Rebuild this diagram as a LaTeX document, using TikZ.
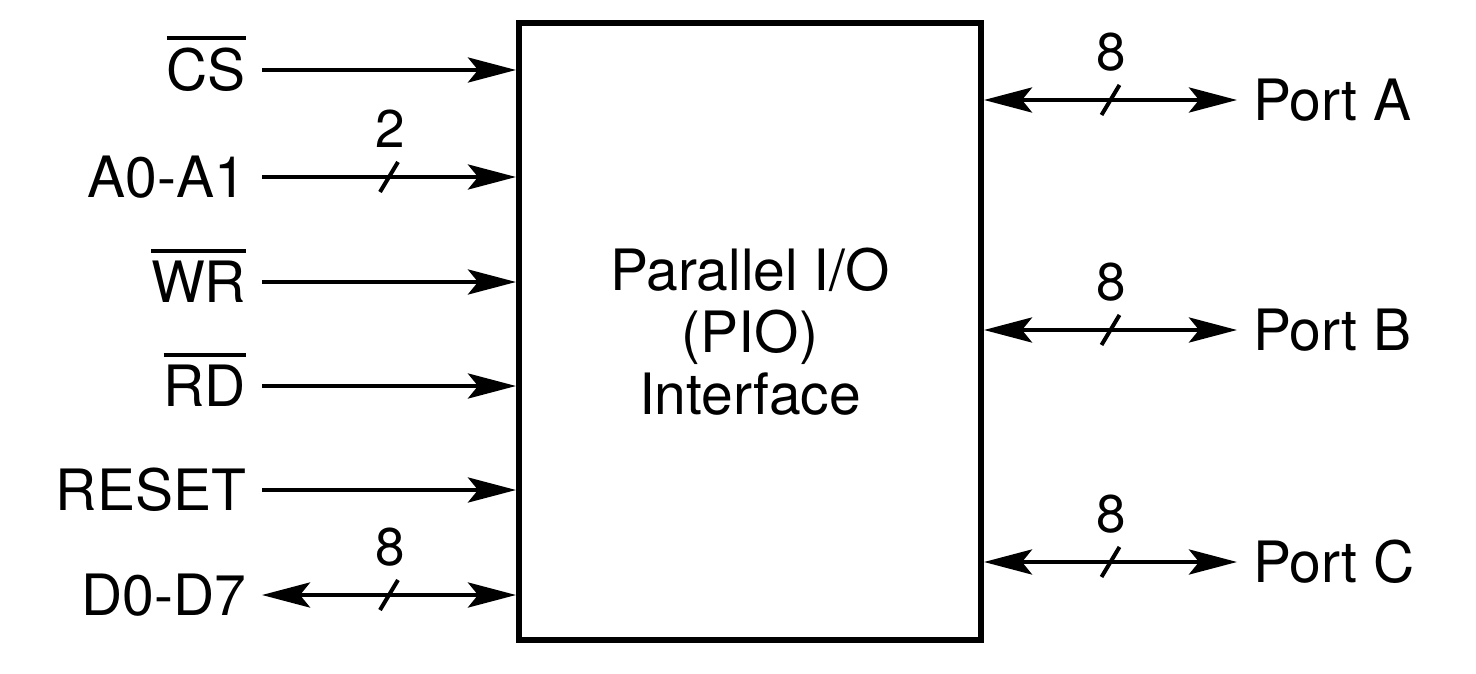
\documentclass[tikz,border=0pt]{standalone}
\usepackage{fontspec}
\setmainfont{TeX Gyre Heros}
\usetikzlibrary{arrows.meta,calc}
\newcommand\obar[1]{\leavevmode\vbox{\hrule height 4pt\kern 8pt\hbox{#1}}}
\tikzset{
  sig/.style={line width=4.5pt},
  tipstyle/.style={>={Stealth[length=48pt,width=25pt,inset=10pt]}},
  lbl/.style={font=\fontsize{57}{60}\selectfont, inner sep=0pt, outer xsep=16pt, text height=41pt, text depth=0pt},
  lleft/.style={lbl, anchor=east},
  lright/.style={lbl, anchor=west},
  num/.style={font=\fontsize{53}{56}\selectfont, inner sep=0pt},
  slash/.style={line width=4pt}
}
\begin{document}
\begin{tikzpicture}[x=1pt,y=-1pt,tipstyle]
\useasboundingbox (0,0) rectangle (1476,674);
\node[draw, line width=6pt, minimum width=462pt, minimum height=617pt, inner sep=0pt,
      align=center, font=\fontsize{57}{62}\selectfont] (pio) at (750,331.5)
  {Parallel I/O\\(PIO)\\Interface};
% left labels
\node[lleft] (cs) at (262,70) {\obar{CS}};
\node[lleft] (aa) at (262,177) {A0-A1};
\node[lleft] (wr) at (262,282) {\obar{WR}};
\node[lleft] (rd) at (262,386) {\obar{RD}};
\node[lleft] (rs) at (262,490) {RESET};
\node[lleft] (dd) at (262,595) {D0-D7};
% right labels
\node[lright] (pa) at (1237,100) {Port A};
\node[lright] (pb) at (1237,330) {Port B};
\node[lright] (pc) at (1237,562) {Port C};
% left connectors
\draw[sig,->] (cs.east) -- (cs.east -| pio.west);
\draw[sig,->] (aa.east) -- (aa.east -| pio.west);
\draw[sig,->] (wr.east) -- (wr.east -| pio.west);
\draw[sig,->] (rd.east) -- (rd.east -| pio.west);
\draw[sig,->] (rs.east) -- (rs.east -| pio.west);
\draw[sig,<->] (dd.east) -- (dd.east -| pio.west);
% right connectors
\draw[sig,<->] (pa.west -| pio.east) -- (pa.west);
\draw[sig,<->] (pb.west -| pio.east) -- (pb.west);
\draw[sig,<->] (pc.west -| pio.east) -- (pc.west);
% bus slashes and widths
\coordinate (ma) at ($(aa.east)!0.5!(aa.east -| pio.west)$);
\coordinate (md) at ($(dd.east)!0.5!(dd.east -| pio.west)$);
\coordinate (mpa) at ($(pa.west -| pio.east)!0.5!(pa.west)$);
\coordinate (mpb) at ($(pb.west -| pio.east)!0.5!(pb.west)$);
\coordinate (mpc) at ($(pc.west -| pio.east)!0.5!(pc.west)$);
\foreach \m in {ma,md,mpa,mpb,mpc}{
  \draw[slash] ([shift={(-9,15)}]\m) -- ([shift={(9,-15)}]\m);
}
\node[num] (na) at ([shift={(1,-48)}]ma) {2};
\node[num] (nd) at ([shift={(1,-48)}]md) {8};
\node[num] (npa) at ([shift={(1,-48)}]mpa) {8};
\node[num] (npb) at ([shift={(1,-48)}]mpb) {8};
\node[num] (npc) at ([shift={(1,-48)}]mpc) {8};
\end{tikzpicture}
\end{document}
